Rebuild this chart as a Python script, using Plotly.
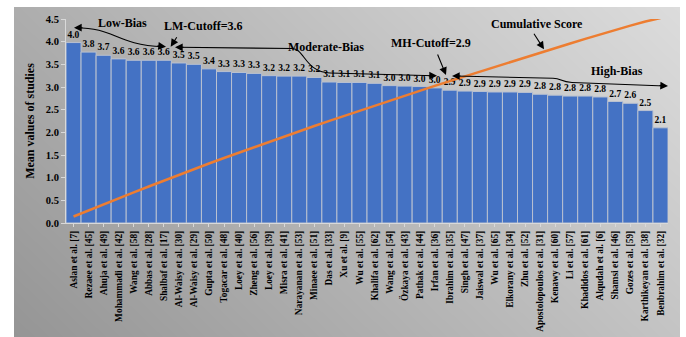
import numpy as np
import plotly.graph_objects as go

# ---------------- data ----------------
studies = [
    "Aslan et al. [7]", "Rezaee et al. [45]", "Ahuja et al. [49]", "Mohammadi et al. [42]",
    "Wang et al. [58]", "Abbas et al. [28]", "Shalbaf et al. [17]", "Al-Waisy et al. [30]",
    "Al-Waisy et al. [29]", "Gupta et al. [50]", "Togacar et al. [48]", "Loey et al. [40]",
    "Zheng et al. [56]", "Loey et al. [39]", "Misra et al. [41]", "Narayanan et al. [53]",
    "Minaee et al. [51]", "Das et al. [33]", "Xu et al. [9]", "Wu et al. [55]",
    "Khalifa et al. [62]", "Wang et al. [54]", "Özkaya et al. [43]", "Pathak et al. [44]",
    "Irfan et al. [36]", "Ibrahim et al. [35]", "Singh et al. [47]", "Jaiswal et al. [37]",
    "Wu et al. [65]", "Elkorany et al. [34]", "Zhu et al. [52]", "Apostolopoulos et al. [31]",
    "Kenawy et al. [60]", "Li et al. [57]", "Khadidos et al. [61]", "Alqudah et al. [6]",
    "Shamsi et al. [46]", "Gozes et al. [59]", "Karthikeyan et al. [38]", "Benbrahim et al. [32]",
]
mean_values = [
    3.98, 3.77, 3.70, 3.62, 3.59, 3.59, 3.59, 3.53, 3.50, 3.40,
    3.34, 3.32, 3.30, 3.25, 3.24, 3.24, 3.21, 3.11, 3.10, 3.10,
    3.08, 3.03, 3.02, 3.01, 2.98, 2.93, 2.91, 2.90, 2.89, 2.89,
    2.88, 2.84, 2.82, 2.80, 2.80, 2.78, 2.68, 2.64, 2.48, 2.10,
]
y_ticks = [0.0, 0.5, 1.0, 1.5, 2.0, 2.5, 3.0, 3.5, 4.0, 4.5]

x_idx = list(range(len(studies)))
cumulative = np.cumsum(mean_values)
labels = [f"{v:.1f}" for v in mean_values]

# ---------------- layout geometry (pixels of the 686x337 page) ----------------
W, H = 686, 337
GX0, GX1, GY0, GY1 = 14, 680, 7, 337          # grey panel
PX0, PX1, PY0, PY1 = 66, 668, 19, 223         # bar plot area
GW, GH = GX1 - GX0, GY1 - GY0


def px(x):
    return (x - GX0) / GW


def py(y):
    return (GY1 - y) / GH


FONT = "Liberation Serif, Times New Roman, serif"

fig = go.Figure()
# grey diagonal gradient panel (bilinear heatmap over the whole paper)
fig.add_trace(go.Heatmap(
    x=[0, 1], y=[0, 1], z=[[0.0, 0.66], [0.34, 1.0]], zsmooth="best",
    colorscale=[[0, "#959595"], [1, "#dcdcdc"]], showscale=False,
    hoverinfo="skip", xaxis="x", yaxis="y",
))
fig.add_trace(go.Bar(
    x=x_idx, y=mean_values, text=labels, textposition="outside",
    textangle=0, constraintext="none", cliponaxis=False,
    textfont=dict(family=FONT, size=9.5, color="black", weight="bold"),
    marker=dict(color="#4472C4", line=dict(color="#b9c1d1", width=1)),
    showlegend=False, hoverinfo="skip", xaxis="x2", yaxis="y2",
))
fig.add_trace(go.Scatter(
    x=x_idx, y=cumulative, mode="lines", xaxis="x2", yaxis="y3", cliponaxis=False,
    line=dict(color="#ED7D31", width=2.5), showlegend=False, hoverinfo="skip",
))


def path(points_cmds):
    out = []
    for cmd, pts in points_cmds:
        out.append(cmd + " " + " ".join(f"{px(a):.5f},{py(b):.5f}" for a, b in pts))
    return " ".join(out)


line_style = dict(color="black", width=1.1)
shapes = [
    dict(type="path", xref="paper", yref="paper", line=line_style,
         path=path([("M", [(76, 27.7)]), ("C", [(115, 27.7), (115, 44.5), (163, 46.7)])])),
    dict(type="path", xref="paper", yref="paper", line=line_style,
         path=path([("M", [(178, 47.3)]), ("L", [(292, 48.5)]),
                    ("C", [(305, 49), (305, 72), (330, 73)]), ("L", [(434, 75.7)])])),
    dict(type="path", xref="paper", yref="paper", line=line_style,
         path=path([("M", [(455, 76)]), ("L", [(553, 78.3)]),
                    ("C", [(562, 78.5), (560, 82), (572, 82.5)]), ("L", [(665, 86)])])),
]

tfont = dict(family=FONT, size=12, color="black", weight="bold")
ann = []
for txt, x, y in [("Low-Bias", 122, 23.3), ("LM-Cutoff=3.6", 203.5, 25.7),
                  ("Moderate-Bias", 326, 47.5), ("MH-Cutoff=2.9", 430.7, 42.7),
                  ("High-Bias", 617, 70.7), ("Cumulative Score", 537, 24)]:
    ann.append(dict(text=txt, x=px(x), y=py(y), xref="paper", yref="paper",
                    showarrow=False, font=tfont, xanchor="center", yanchor="middle"))

# arrowheads / pointers: (tip_x, tip_y, tail_dx, tail_dy)
for tx, ty, dx, dy in [(74, 27.7, 10, 0), (166, 46.7, -10, -1),
                       (175, 47.3, 10, 0), (437, 75.7, -10, 0),
                       (452, 76, 10, 0), (668, 86, -10, -0.5),
                       (170.7, 46.7, 7, -11), (446, 75, -9, -22),
                       (544, 49.3, -11, -17)]:
    ann.append(dict(text="", x=px(tx), y=py(ty), xref="paper", yref="paper",
                    showarrow=True, ax=dx, ay=dy, axref="pixel", ayref="pixel",
                    arrowhead=2, arrowsize=1.4, arrowwidth=1.1, arrowcolor="black"))

axis_col = "#d9d9d9"
dom_x = [px(PX0), px(PX1)]
dom_y = [py(PY1), py(PY0)]
fig.update_layout(
    width=W, height=H,
    margin=dict(l=GX0, r=W - GX1, t=GY0, b=H - GY1, pad=0),
    paper_bgcolor="white", plot_bgcolor="rgba(0,0,0,0)",
    bargap=0, showlegend=False,
    shapes=shapes, annotations=ann,
    xaxis=dict(domain=[0, 1], range=[0, 1], visible=False, fixedrange=True),
    yaxis=dict(domain=[0, 1], range=[0, 1], visible=False, fixedrange=True),
    xaxis2=dict(domain=dom_x, anchor="y2", range=[-0.5, len(studies) - 0.5],
                tickmode="array", tickvals=x_idx,
                ticktext=studies, tickangle=-90, showgrid=False, zeroline=False,
                showline=True, linecolor=axis_col, ticks="outside", ticklen=3,
                tickcolor=axis_col, automargin=False,
                tickfont=dict(family=FONT, size=9.4, color="black", weight="bold")),
    yaxis2=dict(domain=dom_y, anchor="x2", range=[0, 4.5], tickmode="array", tickvals=y_ticks,
                ticktext=[f"{t:.1f}" for t in y_ticks], showgrid=False, zeroline=False,
                showline=True, linecolor=axis_col, ticks="outside", ticklen=4,
                tickcolor=axis_col, automargin=False,
                tickfont=dict(family=FONT, size=10.5, color="black", weight="bold"),
                title=dict(text="Mean values of studies", standoff=8,
                           font=dict(family=FONT, size=12, color="black", weight="bold"))),
    yaxis3=dict(overlaying="y2", anchor="x2", range=[0, cumulative[-1] * 4.5 / 4.52],
                visible=False),
)

fig.write_html("out.html", config={"displayModeBar": False, "staticPlot": True},
               post_script="document.body.style.margin='0';document.body.style.padding='0';")
